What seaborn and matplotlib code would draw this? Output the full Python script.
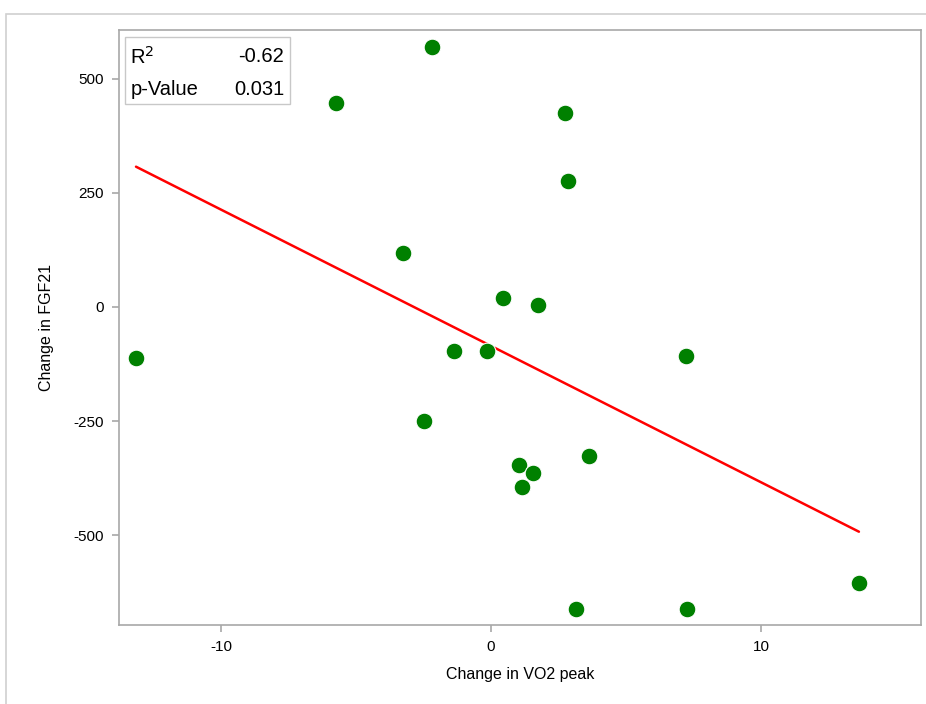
import matplotlib
matplotlib.use("Agg")
import matplotlib.pyplot as plt
import seaborn as sns
import pandas as pd
from matplotlib.patches import Rectangle

vo2_change = [-2.19, -5.74, 2.74, 2.85, -3.26, 0.44, 1.74, -13.15, -1.37, -0.15,
              7.22, -2.48, 1.04, 1.56, 3.63, 1.15, 13.63, 3.15, 7.26]
fgf21_change = [570, 447, 425, 276, 118, 20, 4, -112, -96, -96,
                -107, -250, -346, -364, -327, -395, -605, -662, -662]
x_ticks = [-10, 0, 10]
y_ticks = [-500, -250, 0, 250, 500]
stat_labels = ["R$^2$", "p-Value"]
stat_values = ["-0.62", "0.031"]

df = pd.DataFrame({"vo2": vo2_change, "fgf": fgf21_change})

sns.set_style("white", {"xtick.bottom": True, "ytick.left": True})
plt.rcParams['font.family'] = ['Liberation Sans', 'DejaVu Sans']
plt.rcParams['axes.unicode_minus'] = False
plt.rcParams['xtick.major.size'] = 5
plt.rcParams['ytick.major.size'] = 5

fig = plt.figure(figsize=(9.26, 7.04), dpi=100)
fig.patches.append(Rectangle((6/926, -0.1), 1.2, 1 - 14/704 + 0.1,
                             transform=fig.transFigure, fill=False,
                             edgecolor="#d0d0d0", linewidth=1.2))
ax = fig.add_axes([119/926, 1 - 625/704, 802/926, 595/704])

sns.regplot(data=df, x="vo2", y="fgf", ax=ax, ci=None,
            scatter_kws=dict(s=145, color="#008000", edgecolor="white",
                             linewidths=0.8, alpha=1, zorder=3),
            line_kws=dict(color="#ff0000", linewidth=1.8, zorder=2))

ax.set_xlim(-13.78, 15.93)
ax.set_ylim(-697, 607)
ax.set_xticks(x_ticks)
ax.set_yticks(y_ticks)
ax.set_xlabel("Change in VO2 peak", fontsize=11.5, labelpad=9, color="black")
ax.set_ylabel("Change in FGF21", fontsize=11.5, labelpad=14, color="black")
for sp in ax.spines.values():
    sp.set_color("#a8a8a8")
    sp.set_linewidth(1.2)
ax.tick_params(axis="both", which="major", direction="out", length=5, width=1.2,
               color="#a8a8a8", labelsize=11, pad=6, labelcolor="black",
               bottom=True, left=True)

ax.add_patch(Rectangle((0.0075, 0.876), 0.2055, 0.112, transform=ax.transAxes,
                       fill=True, facecolor="white", edgecolor="#c8c8c8",
                       linewidth=1.0, zorder=5))
row_y = [0.955, 0.900]
for lab, val, yy in zip(stat_labels, stat_values, row_y):
    ax.text(0.014, yy, lab, transform=ax.transAxes, fontsize=14.5,
            ha="left", va="center", zorder=6, color="black")
    ax.text(0.206, yy, val, transform=ax.transAxes, fontsize=14.5,
            ha="right", va="center", zorder=6, color="black")

fig.savefig("out.png", dpi=100)
